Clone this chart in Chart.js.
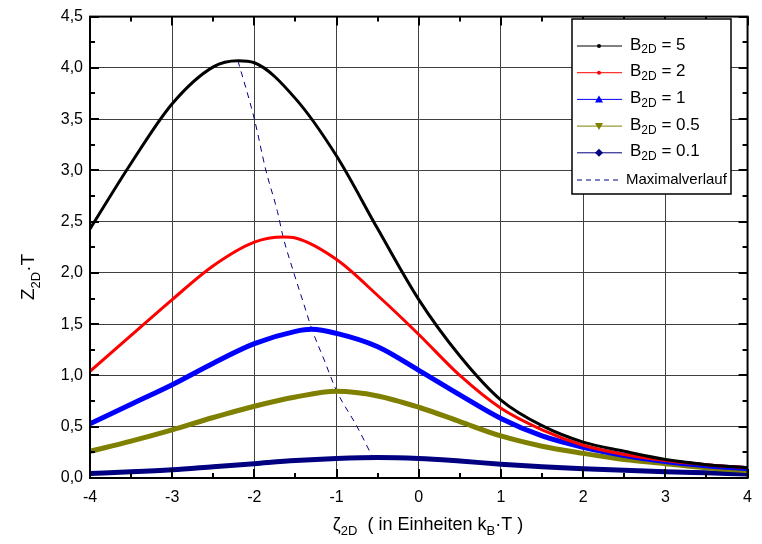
<!DOCTYPE html>
<html>
<head>
<meta charset="utf-8">
<script src="https://cdn.jsdelivr.net/npm/chart.js@4"></script>
<style>
  html, body { margin: 0; padding: 0; background: #fff; }
  #box { width: 762px; height: 544px; }
</style>
</head>
<body>
<div id="box"><canvas id="chart-area"></canvas></div>
<script>
// zeta values (x) and Z*T values, peak point included
const xB5 = [-4, -3.5, -3, -2.5, -2.2, -2, -1.5, -1, -0.5, 0, 0.5, 1, 1.5, 2, 2.5, 3, 3.5, 4];
const zB5 = [2.43, 3.07, 3.65, 4.01, 4.07, 4.05, 3.70, 3.14, 2.43, 1.74, 1.19, 0.76, 0.51, 0.35, 0.26, 0.18, 0.13, 0.10];

const xB2 = [-4, -3.5, -3, -2.5, -2, -1.65, -1.5, -1, -0.5, 0, 0.5, 1, 1.5, 2, 2.5, 3, 3.5, 4];
const zB2 = [1.04, 1.39, 1.74, 2.07, 2.30, 2.35, 2.34, 2.13, 1.78, 1.40, 1.00, 0.68, 0.47, 0.32, 0.23, 0.17, 0.13, 0.10];

const xB1 = [-4, -3.5, -3, -2.5, -2, -1.5, -1.3, -1, -0.5, 0, 0.5, 1, 1.5, 2, 2.5, 3, 3.5, 4];
const zB1 = [0.53, 0.72, 0.91, 1.12, 1.31, 1.43, 1.45, 1.41, 1.28, 1.05, 0.81, 0.58, 0.41, 0.30, 0.22, 0.16, 0.12, 0.09];

const xB05 = [-4, -3.5, -3, -2.5, -2, -1.5, -1, -0.5, 0, 0.5, 1, 1.5, 2, 2.5, 3, 3.5, 4];
const zB05 = [0.26, 0.36, 0.47, 0.59, 0.70, 0.79, 0.845, 0.80, 0.69, 0.55, 0.41, 0.31, 0.24, 0.18, 0.14, 0.10, 0.07];

const xB01 = [-4, -3.5, -3, -2.5, -2, -1.5, -1, -0.5, 0, 0.5, 1, 1.5, 2, 2.5, 3, 3.5, 4];
const zB01 = [0.045, 0.06, 0.08, 0.11, 0.14, 0.17, 0.19, 0.20, 0.19, 0.165, 0.135, 0.11, 0.09, 0.075, 0.06, 0.05, 0.04];

// dashed line through the maxima
const maxX = [-2.2, -2.0, -1.86, -1.72, -1.65, -1.52, -1.40, -1.3, -1.15, -1.0, -0.75, -0.56];
const maxY = [4.07, 3.5, 3.0, 2.6, 2.35, 2.0, 1.7, 1.45, 1.15, 0.85, 0.5, 0.2];

const xTicks = [-4, -3, -2, -1, 0, 1, 2, 3, 4];
const yTicks = [0, 0.5, 1, 1.5, 2, 2.5, 3, 3.5, 4, 4.5];

const legendItems = [
  { label: "5", color: "#000000", mark: "dot" },
  { label: "2", color: "#ff0000", mark: "dot" },
  { label: "1", color: "#0000ff", mark: "up" },
  { label: "0.5", color: "#808000", mark: "down" },
  { label: "0.1", color: "#000080", mark: "diamond" },
];

const FONT = "'Liberation Sans', Arial, sans-serif";

function pts(xs, ys) {
  return xs.map((x, i) => ({ x: x, y: ys[i] }));
}

function curve(xs, ys, color, width) {
  return {
    data: pts(xs, ys),
    borderColor: color,
    backgroundColor: color,
    borderWidth: width,
    pointRadius: 0,
    cubicInterpolationMode: "monotone",
  };
}

// draws text with subscript parts, returns width
function richText(ctx, parts, x, y, size, measureOnly) {
  let cx = x;
  parts.forEach((p) => {
    const s = p.sub ? Math.round(size * 0.7) : size;
    ctx.font = s + "px " + FONT;
    if (!measureOnly) ctx.fillText(p.t, cx, p.sub ? y + size * 0.3 : y);
    cx += ctx.measureText(p.t).width;
  });
  return cx - x;
}

function drawMark(ctx, type, x, y, color) {
  ctx.fillStyle = color;
  ctx.beginPath();
  if (type === "dot") {
    ctx.arc(x, y, 2, 0, Math.PI * 2);
  } else if (type === "up") {
    ctx.moveTo(x, y - 4); ctx.lineTo(x + 4, y + 3); ctx.lineTo(x - 4, y + 3);
  } else if (type === "down") {
    ctx.moveTo(x, y + 4); ctx.lineTo(x + 4, y - 3); ctx.lineTo(x - 4, y - 3);
  } else {
    ctx.moveTo(x, y - 4); ctx.lineTo(x + 4, y); ctx.lineTo(x, y + 4); ctx.lineTo(x - 4, y);
  }
  ctx.closePath();
  ctx.fill();
}

const extras = {
  id: "extras",
  afterDraw(chart) {
    const ctx = chart.ctx;
    const a = chart.chartArea;
    const xs = chart.scales.x, ys = chart.scales.y;
    ctx.save();

    // frame
    ctx.strokeStyle = "#000";
    ctx.lineWidth = 2;
    ctx.strokeRect(a.left, a.top, a.right - a.left, a.bottom - a.top);

    // inward ticks on all four sides
    for (let v = -4; v <= 4.001; v += 0.5) {
      const px = Math.round(xs.getPixelForValue(v));
      const len = Number.isInteger(v) ? 9 : 5;
      ctx.beginPath();
      ctx.moveTo(px, a.bottom); ctx.lineTo(px, a.bottom - len);
      ctx.moveTo(px, a.top); ctx.lineTo(px, a.top + len);
      ctx.stroke();
    }
    for (let v = 0; v <= 4.501; v += 0.25) {
      const py = Math.round(ys.getPixelForValue(v));
      const len = Math.abs(v * 2 - Math.round(v * 2)) < 0.01 ? 9 : 5;
      ctx.beginPath();
      ctx.moveTo(a.left, py); ctx.lineTo(a.left + len, py);
      ctx.moveTo(a.right, py); ctx.lineTo(a.right - len, py);
      ctx.stroke();
    }

    // legend
    const lx = 572, ly = 19, lw = 159, lh = 175;
    ctx.fillStyle = "#fff";
    ctx.fillRect(lx, ly, lw, lh);
    ctx.strokeStyle = "#000";
    ctx.lineWidth = 1.5;
    ctx.strokeRect(lx, ly, lw, lh);
    ctx.textBaseline = "middle";
    ctx.textAlign = "left";
    legendItems.forEach((it, i) => {
      const y = 46 + i * 26.7;
      ctx.strokeStyle = it.color;
      ctx.lineWidth = 1;
      ctx.beginPath();
      ctx.moveTo(577, y); ctx.lineTo(622, y);
      ctx.stroke();
      drawMark(ctx, it.mark, 599, y, it.color);
      ctx.fillStyle = "#000";
      richText(ctx, [{ t: "B" }, { t: "2D", sub: true }, { t: " = " + it.label }], 630, y - 1, 17);
    });
    const dy = 180;
    ctx.strokeStyle = "#000080";
    ctx.lineWidth = 1;
    ctx.setLineDash([5, 4]);
    ctx.beginPath();
    ctx.moveTo(577, dy); ctx.lineTo(622, dy);
    ctx.stroke();
    ctx.setLineDash([]);
    ctx.fillStyle = "#000";
    ctx.font = "15px " + FONT;
    ctx.fillText("Maximalverlauf", 626, dy);

    // axis titles
    ctx.textBaseline = "alphabetic";
    const xParts = [{ t: "\u03B6" }, { t: "2D", sub: true }, { t: "  ( in Einheiten k" }, { t: "B", sub: true }, { t: "\u00B7T )" }];
    const xw = richText(ctx, xParts, 0, 0, 18, true);
    richText(ctx, xParts, 428 - xw / 2, 530, 18);

    ctx.translate(34, 277);
    ctx.rotate(-Math.PI / 2);
    const yParts = [{ t: "Z" }, { t: "2D", sub: true }, { t: "\u00B7T" }];
    const yw = richText(ctx, yParts, 0, 0, 19, true);
    richText(ctx, yParts, -yw / 2, 0, 19);

    ctx.restore();
  },
};

new Chart("chart-area", {
  type: "line",
  data: {
    datasets: [
      curve(xB5, zB5, "#000000", 3),
      curve(xB2, zB2, "#ff0000", 3),
      curve(xB1, zB1, "#0000ff", 5),
      curve(xB05, zB05, "#808000", 5),
      curve(xB01, zB01, "#000080", 5),
      {
        data: pts(maxX, maxY),
        borderColor: "#000080",
        borderWidth: 1,
        borderDash: [6, 5],
        pointRadius: 0,
        cubicInterpolationMode: "monotone",
      },
    ],
  },
  options: {
    responsive: true,
    maintainAspectRatio: false,
    animation: false,
    layout: { padding: { top: 15, right: 7, left: 0, bottom: 0 } },
    plugins: {
      legend: { display: false },
      tooltip: { enabled: false },
    },
    scales: {
      x: {
        type: "linear",
        min: -4,
        max: 4,
        afterFit: (s) => { s.height = 66; },
        afterBuildTicks: (s) => { s.ticks = xTicks.map((v) => ({ value: v })); },
        ticks: {
          color: "#000",
          font: { family: FONT, size: 16 },
          padding: 10,
          maxRotation: 0,
          callback: (v) => String(v),
        },
        grid: { color: "#404040", lineWidth: 1, drawTicks: false },
        border: { color: "#000", width: 2 },
      },
      y: {
        min: 0,
        max: 4.5,
        afterFit: (s) => { s.width = 90; },
        afterBuildTicks: (s) => { s.ticks = yTicks.map((v) => ({ value: v })); },
        ticks: {
          color: "#000",
          font: { family: FONT, size: 16 },
          padding: 7,
          callback: (v) => v.toFixed(1).replace(".", ","),
        },
        grid: { color: "#404040", lineWidth: 1, drawTicks: false },
        border: { color: "#000", width: 2 },
      },
    },
  },
  plugins: [extras],
});
</script>
</body>
</html>
